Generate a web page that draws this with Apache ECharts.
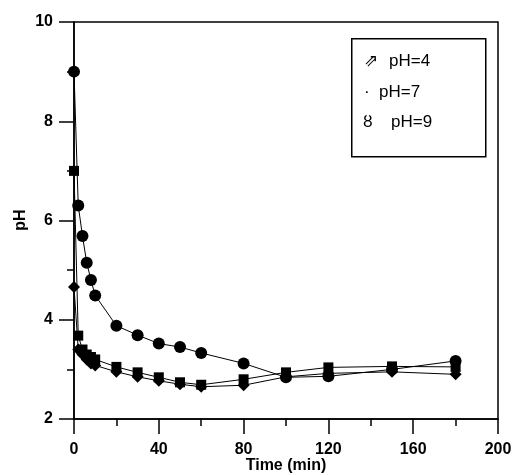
<!DOCTYPE html>
<html><head><meta charset="utf-8">
<script src="https://cdn.jsdelivr.net/npm/echarts@6/dist/echarts.min.js"></script>
<style>html,body{margin:0;padding:0;background:#fff}#c{width:512px;height:475px}</style>
</head><body><div id="c"></div>
<script>
const times = [0, 2, 4, 6, 8, 10, 20, 30, 40, 50, 60, 80, 100, 120, 150, 180];
const ph4 = [4.66, 3.4, 3.3, 3.2, 3.12, 3.08, 2.95, 2.85, 2.77, 2.7, 2.65, 2.68, 2.85, 2.92, 2.95, 2.9];
const ph7 = [7.0, 3.68, 3.4, 3.3, 3.25, 3.2, 3.05, 2.94, 2.84, 2.74, 2.69, 2.8, 2.94, 3.04, 3.06, 3.05];
const ph9 = [9.0, 6.3, 5.69, 5.15, 4.8, 4.49, 3.88, 3.69, 3.52, 3.45, 3.33, 3.12, 2.84, 2.86, 3.0, 3.17];
const seriesNames = ['pH=4', 'pH=7', 'pH=9'];
const legendGlyphs = ['\u21D7', '\u00B7', '\u0223'];
const xTitle = 'Time (min)';
const yTitle = 'pH';

const pair = (ys) => times.map((t, i) => [t, ys[i]]);
const chart = echarts.init(document.getElementById('c'));
const font = 'Liberation Sans, Arial, sans-serif';
const lineCommon = {type: 'line', lineStyle: {color: '#000', width: 1}, itemStyle: {color: '#000'}, z: 3};
const glyphX = [364, 364, 363];
const textX = [389, 379, 391];
const rowY = [61, 92, 122];
chart.setOption({
  animation: false,
  backgroundColor: '#fff',
  grid: {left: 74, right: 14, top: 22, bottom: 56, show: true, borderColor: '#000', borderWidth: 1.5,
         containLabel: false, outerBoundsMode: 'none'},
  xAxis: {
    type: 'value', min: 0, max: 200, interval: 40,
    axisLine: {lineStyle: {color: '#000', width: 1.5}},
    axisTick: {length: 15, lineStyle: {color: '#000', width: 1.5}},
    minorTick: {show: true, splitNumber: 2, length: 7, lineStyle: {color: '#000', width: 1.5}},
    splitLine: {show: false},
    axisLabel: {margin: 23, fontFamily: font, fontWeight: 'bold', fontSize: 16, color: '#000'}
  },
  yAxis: {
    type: 'value', min: 2, max: 10, interval: 2,
    axisLine: {lineStyle: {color: '#000', width: 1.5}},
    axisTick: {length: 15, lineStyle: {color: '#000', width: 1.5}},
    minorTick: {show: true, splitNumber: 2, length: 7, lineStyle: {color: '#000', width: 1.5}},
    splitLine: {show: false},
    axisLabel: {margin: 21, fontFamily: font, fontWeight: 'bold', fontSize: 16, color: '#000'}
  },
  series: [
    Object.assign({}, lineCommon, {name: seriesNames[0], data: pair(ph4), symbol: 'diamond', symbolSize: 12}),
    Object.assign({}, lineCommon, {name: seriesNames[1], data: pair(ph7), symbol: 'rect', symbolSize: 10}),
    Object.assign({}, lineCommon, {name: seriesNames[2], data: pair(ph9), symbol: 'circle', symbolSize: 12})
  ],
  graphic: [
    {type: 'text', x: 286, y: 466, style: {text: xTitle, font: 'bold 16px ' + font, fill: '#000', align: 'center', verticalAlign: 'middle'}},
    {type: 'text', x: 21, y: 220, rotation: Math.PI / 2, style: {text: yTitle, font: 'bold 16px ' + font, fill: '#000', align: 'center', verticalAlign: 'middle'}},
    {type: 'rect', left: 351, top: 38, shape: {width: 134, height: 118}, style: {fill: '#fff', stroke: '#000', lineWidth: 1.5}, z: 10},
    ...seriesNames.map((n, i) => ({
      type: 'text', x: glyphX[i], y: rowY[i], z: 11,
      style: {text: legendGlyphs[i], font: '17px ' + font, fill: '#000', verticalAlign: 'middle'}
    })),
    ...seriesNames.map((n, i) => ({
      type: 'text', x: textX[i], y: rowY[i], z: 11,
      style: {text: n, font: '17px ' + font, fill: '#000', verticalAlign: 'middle'}
    }))
  ]
});
</script></body></html>
